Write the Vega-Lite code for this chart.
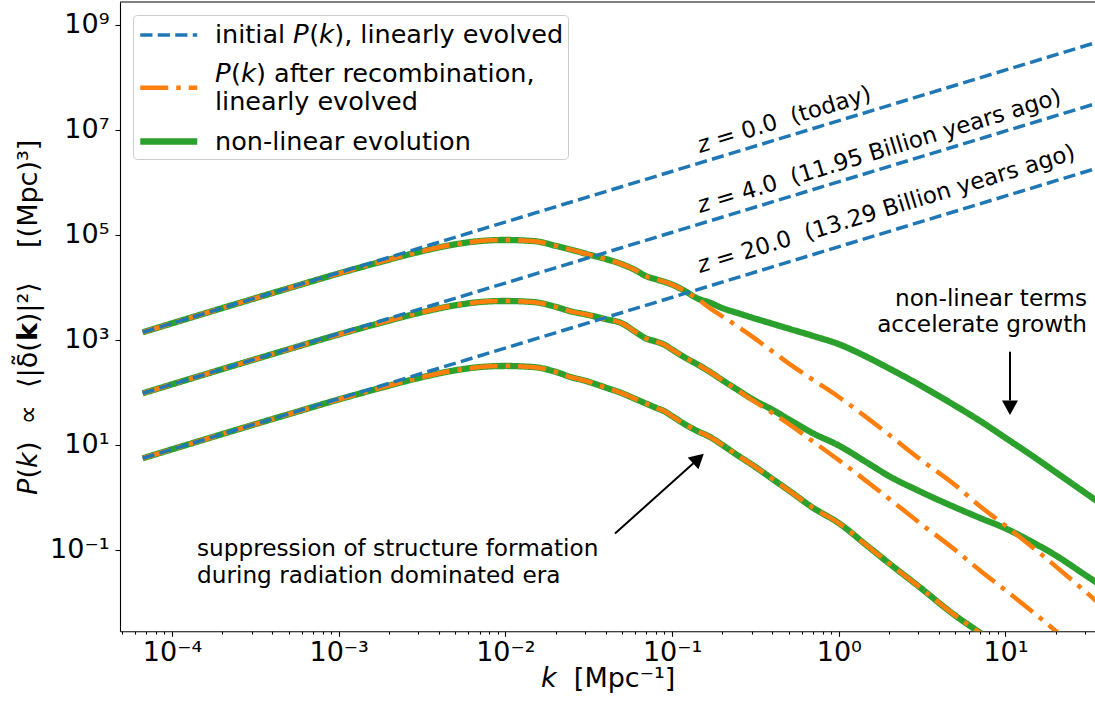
{
  "$schema": "https://vega.github.io/schema/vega-lite/v6.json",
  "width": 975,
  "height": 629.3,
  "autosize": {"type": "none"},
  "padding": {"left": 120, "top": 2, "right": 0, "bottom": 76.7},
  "background": "white",
  "datasets": {
    "curves": [
      {"z":"0","k":0.0000667,"lin":1403,"nl":1403},
      {"z":"0","k":0.0001,"lin":2075,"nl":2075},
      {"z":"0","k":0.0002,"lin":4046,"nl":4046},
      {"z":"0","k":0.0005,"lin":9661,"nl":9661},
      {"z":"0","k":0.001,"lin":18490,"nl":18490},
      {"z":"0","k":0.002,"lin":33880,"nl":33880},
      {"z":"0","k":0.003,"lin":47210,"nl":47210},
      {"z":"0","k":0.005,"lin":66370,"nl":66370},
      {"z":"0","k":0.007,"lin":76560,"nl":76560},
      {"z":"0","k":0.01,"lin":80350,"nl":80350},
      {"z":"0","k":0.015,"lin":76210,"nl":76210},
      {"z":"0","k":0.02,"lin":62230,"nl":62230},
      {"z":"0","k":0.025,"lin":52120,"nl":52120},
      {"z":"0","k":0.03,"lin":44460,"nl":44460},
      {"z":"0","k":0.035,"lin":38990,"nl":38990},
      {"z":"0","k":0.04,"lin":34830,"nl":34830},
      {"z":"0","k":0.05,"lin":27800,"nl":27800},
      {"z":"0","k":0.06,"lin":21530,"nl":21530},
      {"z":"0","k":0.07,"lin":16410,"nl":16410},
      {"z":"0","k":0.08,"lin":14320,"nl":14320},
      {"z":"0","k":0.09,"lin":12790,"nl":12790},
      {"z":"0","k":0.1,"lin":11380,"nl":11380},
      {"z":"0","k":0.12,"lin":8472,"nl":8472},
      {"z":"0","k":0.14,"lin":6252,"nl":6310},
      {"z":"0","k":0.17,"lin":3963,"nl":5093},
      {"z":"0","k":0.2,"lin":2825,"nl":4055},
      {"z":"0","k":0.25,"lin":1778,"nl":3228},
      {"z":"0","k":0.3,"lin":1183,"nl":2685},
      {"z":"0","k":0.4,"lin":605.3,"nl":2037},
      {"z":"0","k":0.5,"lin":359.7,"nl":1648},
      {"z":"0","k":0.7,"lin":174.6,"nl":1197},
      {"z":"0","k":1,"lin":82.04,"nl":831.8},
      {"z":"0","k":1.5,"lin":31.77,"nl":462.4},
      {"z":"0","k":2,"lin":15.67,"nl":287.7},
      {"z":"0","k":3,"lin":5.675,"nl":143.9},
      {"z":"0","k":5,"lin":1.714,"nl":55.85},
      {"z":"0","k":7,"lin":0.6902,"nl":29.04},
      {"z":"0","k":10,"lin":0.2891,"nl":13.65},
      {"z":"0","k":15,"lin":0.104,"nl":5.754},
      {"z":"0","k":20,"lin":0.04875,"nl":3.034},
      {"z":"0","k":30,"lin":0.01633,"nl":1.233},
      {"z":"0","k":40,"lin":0.007413,"nl":0.6501},

      {"z":"4","k":0.0000667,"lin":96.61,"nl":96.61},
      {"z":"4","k":0.0001,"lin":142.9,"nl":142.9},
      {"z":"4","k":0.0002,"lin":278.6,"nl":278.6},
      {"z":"4","k":0.0005,"lin":665.3,"nl":665.3},
      {"z":"4","k":0.001,"lin":1274,"nl":1274},
      {"z":"4","k":0.002,"lin":2333,"nl":2333},
      {"z":"4","k":0.003,"lin":3251,"nl":3251},
      {"z":"4","k":0.005,"lin":4571,"nl":4571},
      {"z":"4","k":0.007,"lin":5272,"nl":5272},
      {"z":"4","k":0.01,"lin":5534,"nl":5534},
      {"z":"4","k":0.015,"lin":5248,"nl":5248},
      {"z":"4","k":0.02,"lin":4285,"nl":4285},
      {"z":"4","k":0.025,"lin":3475,"nl":3475},
      {"z":"4","k":0.03,"lin":3097,"nl":3097},
      {"z":"4","k":0.035,"lin":2767,"nl":2767},
      {"z":"4","k":0.04,"lin":2489,"nl":2489},
      {"z":"4","k":0.05,"lin":2080,"nl":2080},
      {"z":"4","k":0.06,"lin":1439,"nl":1439},
      {"z":"4","k":0.07,"lin":1064,"nl":1064},
      {"z":"4","k":0.08,"lin":935.4,"nl":935.4},
      {"z":"4","k":0.09,"lin":811,"nl":811},
      {"z":"4","k":0.1,"lin":656.1,"nl":656.1},
      {"z":"4","k":0.12,"lin":458.1,"nl":458.1},
      {"z":"4","k":0.14,"lin":350.8,"nl":350.8},
      {"z":"4","k":0.17,"lin":242.7,"nl":242.7},
      {"z":"4","k":0.2,"lin":172.2,"nl":172.2},
      {"z":"4","k":0.25,"lin":107.6,"nl":109.6},
      {"z":"4","k":0.3,"lin":73.28,"nl":75.86},
      {"z":"4","k":0.4,"lin":40.36,"nl":46.77},
      {"z":"4","k":0.5,"lin":25.23,"nl":30.9},
      {"z":"4","k":0.7,"lin":11.67,"nl":16.71},
      {"z":"4","k":1,"lin":5.14,"nl":9.772},
      {"z":"4","k":1.5,"lin":1.932,"nl":4.477},
      {"z":"4","k":2,"lin":0.9506,"nl":2.559},
      {"z":"4","k":3,"lin":0.3428,"nl":1.349},
      {"z":"4","k":5,"lin":0.09954,"nl":0.6457},
      {"z":"4","k":7,"lin":0.04121,"nl":0.4102},
      {"z":"4","k":10,"lin":0.01706,"nl":0.2576},
      {"z":"4","k":15,"lin":0.006124,"nl":0.133},
      {"z":"4","k":20,"lin":0.002871,"nl":0.07889},
      {"z":"4","k":30,"lin":0.001,"nl":0.03357},
      {"z":"4","k":40,"lin":0.000437,"nl":0.01824},

      {"z":"20","k":0.0000667,"lin":5.585,"nl":5.585},
      {"z":"20","k":0.0001,"lin":8.26,"nl":8.26},
      {"z":"20","k":0.0002,"lin":16.11,"nl":16.11},
      {"z":"20","k":0.0005,"lin":38.46,"nl":38.46},
      {"z":"20","k":0.001,"lin":73.62,"nl":73.62},
      {"z":"20","k":0.002,"lin":134.9,"nl":134.9},
      {"z":"20","k":0.003,"lin":187.9,"nl":187.9},
      {"z":"20","k":0.005,"lin":264.2,"nl":264.2},
      {"z":"20","k":0.007,"lin":304.8,"nl":304.8},
      {"z":"20","k":0.01,"lin":319.9,"nl":319.9},
      {"z":"20","k":0.015,"lin":303.4,"nl":303.4},
      {"z":"20","k":0.02,"lin":247.7,"nl":247.7},
      {"z":"20","k":0.025,"lin":194.1,"nl":194.1},
      {"z":"20","k":0.03,"lin":167.9,"nl":167.9},
      {"z":"20","k":0.035,"lin":143.2,"nl":143.2},
      {"z":"20","k":0.04,"lin":123.9,"nl":123.9},
      {"z":"20","k":0.05,"lin":97.05,"nl":97.05},
      {"z":"20","k":0.06,"lin":75.51,"nl":75.51},
      {"z":"20","k":0.07,"lin":61.24,"nl":61.24},
      {"z":"20","k":0.08,"lin":51.17,"nl":51.17},
      {"z":"20","k":0.09,"lin":43.85,"nl":43.85},
      {"z":"20","k":0.1,"lin":35.48,"nl":35.48},
      {"z":"20","k":0.12,"lin":24.55,"nl":24.55},
      {"z":"20","k":0.14,"lin":18.79,"nl":18.79},
      {"z":"20","k":0.17,"lin":14.03,"nl":14.03},
      {"z":"20","k":0.2,"lin":10.05,"nl":10.05},
      {"z":"20","k":0.25,"lin":6.194,"nl":6.194},
      {"z":"20","k":0.3,"lin":4.266,"nl":4.266},
      {"z":"20","k":0.4,"lin":2.249,"nl":2.249},
      {"z":"20","k":0.5,"lin":1.371,"nl":1.371},
      {"z":"20","k":0.7,"lin":0.6368,"nl":0.6368},
      {"z":"20","k":1,"lin":0.3251,"nl":0.3251},
      {"z":"20","k":1.5,"lin":0.1161,"nl":0.1161},
      {"z":"20","k":2,"lin":0.05585,"nl":0.05585},
      {"z":"20","k":3,"lin":0.02051,"nl":0.02051},
      {"z":"20","k":5,"lin":0.005623,"nl":0.005623},
      {"z":"20","k":7,"lin":0.002673,"nl":0.002673},
      {"z":"20","k":10,"lin":0.00118,"nl":0.00118}
    ],
    "blue": [
      {"z":"0","k":0.0000667,"init":1403},
      {"z":"0","k":40,"init":528450000},
      {"z":"4","k":0.0000667,"init":96.61},
      {"z":"4","k":40,"init":36390000},
      {"z":"20","k":0.0000667,"init":5.585},
      {"z":"20","k":40,"init":2104000}
    ],
    "frame": [
      {"k":0.00004876,"value":2742000000},
      {"k":34.43,"value":2742000000}
    ],
    "shafts": [
      {"k":10.64,"value":598.4,"k2":10.64,"v2":70.4},
      {"k":0.04545,"value":0.2053,"k2":0.1342,"v2":4.501}
    ],
    "headDown": [{"k":10.64,"value":51.34}],
    "headDiag": [{"k":0.1439,"value":5.508}],
    "zlabels": [
      {"k":0.147,"value":3724000,"t":"\ud835\ude3b = 0.0\u00a0 (today)"},
      {"k":0.147,"value":258800,"t":"\ud835\ude3b = 4.0\u00a0 (11.95 Billion years ago)"},
      {"k":0.147,"value":18620,"t":"\ud835\ude3b = 20.0\u00a0 (13.29 Billion years ago)"}
    ],
    "nltext": [{"k":30.83,"value":4443,"t":"non-linear terms\naccelerate growth"}],
    "suptext": [{"k":0.0001413,"value":0.0769,"t":"suppression of structure formation\nduring radiation dominated era"}]
  },
  "encoding": {
    "x": {
      "field": "k",
      "type": "quantitative",
      "scale": {"type": "log", "domain": [0.00004876, 34.43], "nice": false},
      "axis": {
        "title": "\ud835\ude2c\u00a0 [Mpc\u207b\u00b9]",
        "values": [0.00005,0.00006,0.00007,0.00008,0.00009,0.0001,0.0002,0.0003,0.0004,0.0005,0.0006,0.0007,0.0008,0.0009,0.001,0.002,0.003,0.004,0.005,0.006,0.007,0.008,0.009,0.01,0.02,0.03,0.04,0.05,0.06,0.07,0.08,0.09,0.1,0.2,0.3,0.4,0.5,0.6,0.7,0.8,0.9,1,2,3,4,5,6,7,8,9,10,20,30],
        "labelExpr": "datum.value == 0.0001 ? '10\u207b\u2074' : datum.value == 0.001 ? '10\u207b\u00b3' : datum.value == 0.01 ? '10\u207b\u00b2' : datum.value == 0.1 ? '10\u207b\u00b9' : datum.value == 1 ? '10\u2070' : datum.value == 10 ? '10\u00b9' : ''",
        "tickSize": {"condition": {"test": "indexof([0.0001,0.001,0.01,0.1,1,10], datum.value) >= 0", "value": 5}, "value": 2.8},
        "grid": false,
        "labelOverlap": false,
        "labelFlush": false,
        "labelBound": false,
        "labelPadding": 3,
        "titlePadding": 0
      }
    },
    "y": {
      "field": "value",
      "type": "quantitative",
      "scale": {"type": "log", "domain": [0.002825, 2742000000], "nice": false},
      "axis": {
        "title": "\ud835\ude17(\ud835\ude2c)\u00a0 \u221d\u00a0 \u27e8|\u03b4\u0303(\ud835\uddf8)|\u00b2\u27e9\u00a0\u00a0\u00a0 [(Mpc)\u00b3]",
        "titleFont": "DejaVu Sans, DejaVu Serif",
        "values": [0.1, 10, 1000, 100000, 10000000, 1000000000],
        "labelExpr": "datum.value == 0.1 ? '10\u207b\u00b9' : datum.value == 10 ? '10\u00b9' : datum.value == 1000 ? '10\u00b3' : datum.value == 100000 ? '10\u2075' : datum.value == 10000000 ? '10\u2077' : '10\u2079'",
        "tickSize": 5,
        "grid": false,
        "labelOverlap": false,
        "labelFlush": false,
        "labelBound": false,
        "labelPadding": 6,
        "titlePadding": 7
      }
    }
  },
  "layer": [
    {
      "data": {"name": "curves"},
      "transform": [{"fold": ["lin", "nl"], "as": ["key", "value"]}, {"filter": "datum.key == 'nl'"}],
      "mark": {"type": "line", "clip": true, "strokeJoin": "round", "strokeCap": "butt", "interpolate": "monotone"},
      "encoding": {
        "detail": {"field": "z"},
        "color": {
          "field": "key", "type": "nominal",
          "scale": {"domain": ["init", "lin", "nl"], "range": ["#1f77b4", "#ff7f0e", "#2ca02c"]},
          "legend": {
            "title": null,
            "orient": "top-left",
            "offset": 13,
            "symbolType": "M-1,0L3,0",
            "symbolSize": 812,
            "labelFontSize": 25.5,
            "labelColor": "black",
            "labelLimit": 0,
            "labelOffset": 43,
            "rowPadding": 8,
            "padding": 4,
            "fillColor": "rgba(255,255,255,0.8)",
            "strokeColor": "#cccccc",
            "cornerRadius": 4,
            "labelExpr": "datum.value == 'init' ? 'initial \ud835\ude17(\ud835\ude2c), linearly evolved' : datum.value == 'lin' ? ['\ud835\ude17(\ud835\ude2c) after recombination,', 'linearly evolved'] : 'non-linear evolution'",
            "encode": {"symbols": {"update": {"shape": {"signal": "datum.value == 'lin' ? 'M-1,1L3,1' : 'M-1,0L3,0'"}}}}
          }
        },
        "strokeDash": {
          "field": "key", "type": "nominal",
          "scale": {"domain": ["init", "lin", "nl"], "range": [[12.2, 5.3], [28, 8, 4.5, 8], [1, 0]]}
        },
        "strokeWidth": {
          "field": "key", "type": "ordinal",
          "scale": {"type": "ordinal", "domain": ["init", "lin", "nl"], "range": [3.5, 4.5, 6.3]}
        }
      }
    },
    {
      "data": {"name": "curves"},
      "transform": [{"fold": ["lin", "nl"], "as": ["key", "value"]}, {"filter": "datum.key == 'lin'"}],
      "mark": {"type": "line", "clip": true, "strokeJoin": "round", "strokeCap": "butt", "interpolate": "monotone"},
      "encoding": {
        "detail": {"field": "z"},
        "color": {"field": "key", "type": "nominal", "scale": {"domain": ["init", "lin", "nl"], "range": ["#1f77b4", "#ff7f0e", "#2ca02c"]}},
        "strokeDash": {"field": "key", "type": "nominal", "scale": {"domain": ["init", "lin", "nl"], "range": [[12.2, 5.3], [28, 8, 4.5, 8], [1, 0]]}},
        "strokeWidth": {"field": "key", "type": "ordinal", "scale": {"type": "ordinal", "domain": ["init", "lin", "nl"], "range": [3.5, 4.5, 6.3]}}
      }
    },
    {
      "data": {"name": "blue"},
      "transform": [{"fold": ["init"], "as": ["key", "value"]}],
      "mark": {"type": "line", "clip": true, "strokeCap": "butt"},
      "encoding": {
        "detail": {"field": "z"},
        "color": {"field": "key", "type": "nominal", "scale": {"domain": ["init", "lin", "nl"], "range": ["#1f77b4", "#ff7f0e", "#2ca02c"]}},
        "strokeDash": {"field": "key", "type": "nominal", "scale": {"domain": ["init", "lin", "nl"], "range": [[12.2, 5.3], [28, 8, 4.5, 8], [1, 0]]}},
        "strokeWidth": {"field": "key", "type": "ordinal", "scale": {"type": "ordinal", "domain": ["init", "lin", "nl"], "range": [3.5, 4.5, 6.3]}}
      }
    },
    {
      "data": {"name": "frame"},
      "mark": {"type": "line", "color": "black", "strokeWidth": 1.1},
      "encoding": {}
    },
    {
      "data": {"name": "shafts"},
      "mark": {"type": "rule", "color": "black", "strokeWidth": 2},
      "encoding": {"x2": {"field": "k2"}, "y2": {"field": "v2"}}
    },
    {
      "data": {"name": "headDown"},
      "mark": {"type": "point", "shape": "M-0.9,-1L0.9,0L-0.9,1Z", "size": 256, "filled": true, "color": "black", "opacity": 1, "strokeWidth": 0, "angle": 90},
      "encoding": {}
    },
    {
      "data": {"name": "headDiag"},
      "mark": {"type": "point", "shape": "M-0.9,-1L0.9,0L-0.9,1Z", "size": 256, "filled": true, "color": "black", "opacity": 1, "strokeWidth": 0, "angle": 318.06},
      "encoding": {}
    },
    {
      "data": {"name": "zlabels"},
      "mark": {"type": "text", "align": "left", "baseline": "alphabetic", "angle": 343.1, "fontSize": 23, "color": "black", "font": "DejaVu Sans"},
      "encoding": {"text": {"field": "t"}}
    },
    {
      "data": {"name": "nltext"},
      "mark": {"type": "text", "align": "right", "baseline": "alphabetic", "fontSize": 23.2, "color": "black", "font": "DejaVu Sans", "lineBreak": "\n", "lineHeight": 26.4},
      "encoding": {"text": {"field": "t"}}
    },
    {
      "data": {"name": "suptext"},
      "mark": {"type": "text", "align": "left", "baseline": "alphabetic", "fontSize": 23.2, "color": "black", "font": "DejaVu Sans", "lineBreak": "\n", "lineHeight": 26.8},
      "encoding": {"text": {"field": "t"}}
    }
  ],
  "config": {
    "view": {"stroke": null},
    "font": "DejaVu Sans",
    "axis": {
      "labelFont": "DejaVu Sans",
      "titleFont": "DejaVu Sans",
      "labelFontSize": 27,
      "titleFontSize": 27,
      "labelColor": "black",
      "titleColor": "black",
      "titleFontWeight": "normal",
      "domainColor": "black",
      "domainWidth": 1.1,
      "tickColor": "black",
      "tickWidth": 1.1
    },
    "legend": {"labelFont": "DejaVu Sans"},
    "style": {"guide-label": {"lineHeight": 28.4}}
  }
}
